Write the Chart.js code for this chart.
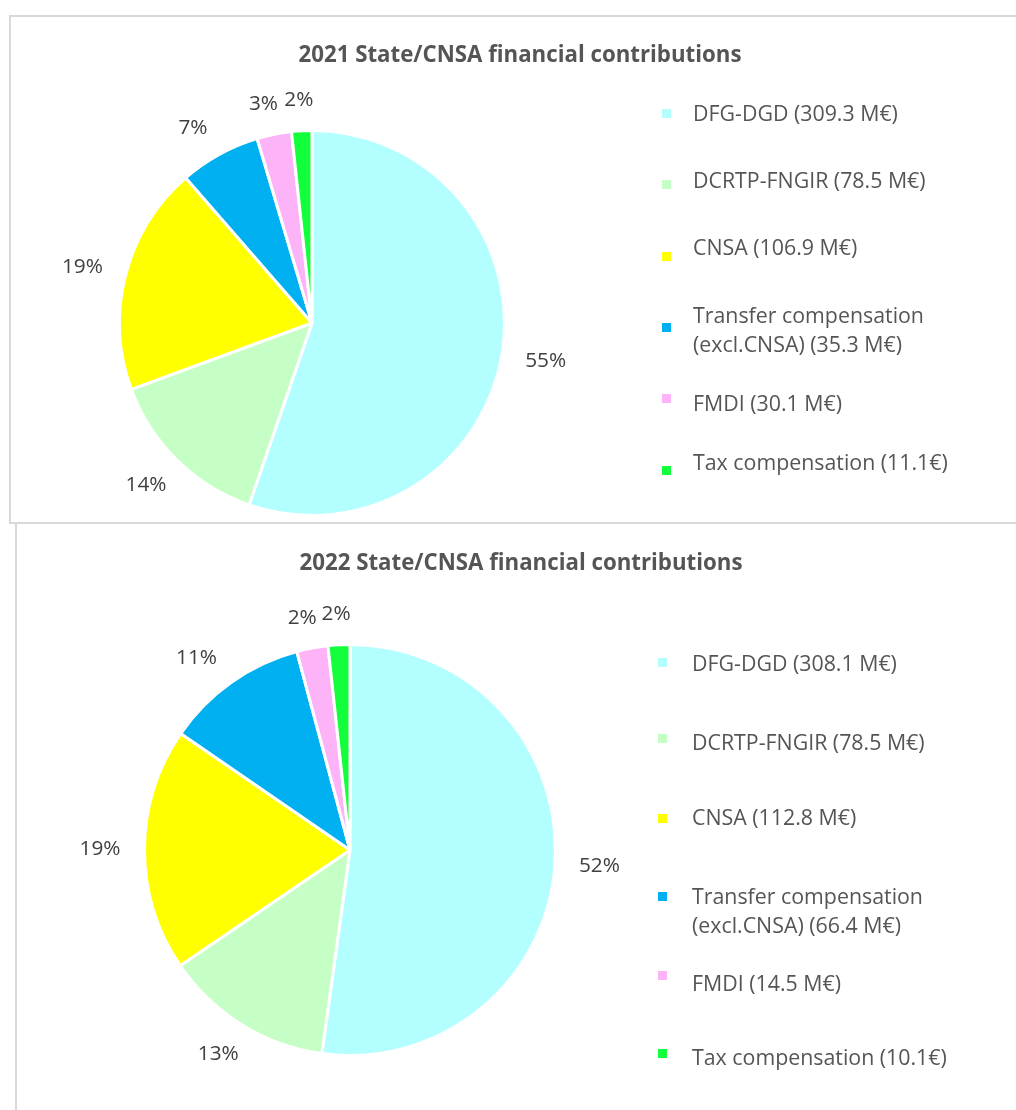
<!DOCTYPE html>
<html>
<head>
<meta charset="utf-8">
<script src="https://cdn.jsdelivr.net/npm/chart.js@4.4.1/dist/chart.umd.min.js"></script>
<style>
  html,body{margin:0;padding:0;background:#fff;width:1016px;height:1110px;overflow:hidden;}
  .box{position:absolute;box-sizing:border-box;border:2px solid #d9d9d9;}
  canvas{position:absolute;}
  .txt{position:absolute;font-family:"Open Sans",sans-serif;color:#555555;white-space:nowrap;line-height:1;font-variant-ligatures:none;}
  .sq{position:absolute;width:9px;height:9px;}
</style>
</head>
<body>
<div class="box" id="box1" style="left:9px;top:15px;width:1020px;height:509px;"></div>
<div class="box" id="box2" style="left:15px;top:522px;width:1020px;height:600px;"></div>
<canvas id="c1" style="left:0;top:0;"></canvas>
<canvas id="c2" style="left:0;top:523px;"></canvas>
<div id="overlay"></div>
<script>
// ---------- data ----------
const categories = ["DFG-DGD", "DCRTP-FNGIR", "CNSA", "Transfer compensation (excl.CNSA)", "FMDI", "Tax compensation"];
const titles = ["2021 State/CNSA financial contributions", "2022 State/CNSA financial contributions"];
// 2021 slice shares (%)
const shares2021 = [55.3, 14.1, 19.2, 6.8, 2.9, 1.7];
// 2022 amounts (M€)
const values2022 = [308.1, 78.5, 112.8, 66.4, 14.5, 10.1];
const legend2021 = ["DFG-DGD (309.3 M€)", "DCRTP-FNGIR (78.5 M€)", "CNSA (106.9 M€)", "Transfer compensation\n(excl.CNSA) (35.3 M€)", "FMDI (30.1 M€)", "Tax compensation (11.1€)"];
const legend2022 = ["DFG-DGD (308.1 M€)", "DCRTP-FNGIR (78.5 M€)", "CNSA (112.8 M€)", "Transfer compensation\n(excl.CNSA) (66.4 M€)", "FMDI (14.5 M€)", "Tax compensation (10.1€)"];

// ---------- styles / layout ----------
const colors = ["#B3FFFF", "#C6FFC6", "#FFFF00", "#00B0F0", "#FDB3F7", "#13FF3B"];
const FONT = '"Open Sans", sans-serif';
const layouts = [
  {canvasTop:0, h:523, pad:{left:118, right:510, top:129, bottom:6}, titleY:54, titleX:520,
   textX:693, sqX:662, textY:[113,180,247,315,403,462], sqY:[113,184,256,327,398,470]},
  {canvasTop:523, h:587, pad:{left:143, right:459, top:120, bottom:53}, titleY:562, titleX:521,
   textX:692, sqX:658, textY:[663,742,817,896,983,1057], sqY:[662,738,818,896,975,1053]}
];

const meas = document.createElement('canvas').getContext('2d');
function fitSize(text, weight, target){
  meas.font = weight + ' 20px ' + FONT;
  return 20 * target / meas.measureText(text).width;
}
const titleSize = fitSize(titles[0], 'bold', 443);
const legSize = fitSize("DFG-DGD (309.3 M€)", 'normal', 205);
const lblSize = fitSize("55%", 'normal', 41);

const labelPlugin = {
  id: 'outLabels',
  afterDatasetsDraw(chart){
    const ctx = chart.ctx;
    const meta = chart.getDatasetMeta(0);
    const data = chart.data.datasets[0].data;
    const total = data.reduce((a,b)=>a+b,0);
    ctx.save();
    ctx.font = lblSize + 'px ' + FONT;
    ctx.fillStyle = '#404040';
    ctx.textAlign = 'center';
    ctx.textBaseline = 'middle';
    meta.data.forEach((arc, i) => {
      const p = arc.getProps(['x','y','startAngle','endAngle','outerRadius'], true);
      const mid = (p.startAngle + p.endAngle)/2;
      const ux = Math.cos(mid), uy = Math.sin(mid);
      const txt = Math.round(data[i]/total*100) + '%';
      const w = ctx.measureText(txt).width, h = lblSize;
      const gap = 24;
      const cx = p.x + (p.outerRadius + gap)*ux + ux*w/2 - (uy < -0.5 ? 8 : 0) * Math.abs(ux) * 2;
      const cy = p.y + (p.outerRadius + gap)*uy + uy*h/2 + (uy < -0.8 ? 4 : 0);
      ctx.fillText(txt, cx, cy);
    });
    ctx.restore();
  }
};

function makeChart(id, values, lay){
  const cv = document.getElementById(id);
  cv.width = 1016; cv.height = lay.h;
  cv.style.width = '1016px'; cv.style.height = lay.h + 'px';
  new Chart(cv, {
    type: 'pie',
    data: { labels: categories, datasets: [{ data: values, backgroundColor: colors, borderColor: '#ffffff', borderWidth: 3 }] },
    options: {
      responsive: false, animation: false, devicePixelRatio: 1,
      layout: { padding: lay.pad },
      plugins: { legend: { display: false }, tooltip: { enabled: false }, title: { display: false } }
    },
    plugins: [labelPlugin]
  });
}

function addText(text, x, y, size, weight, align){
  const d = document.createElement('div');
  d.className = 'txt';
  d.textContent = text;
  d.style.fontSize = size + 'px';
  d.style.fontWeight = weight;
  document.getElementById('overlay').appendChild(d);
  const r = d.getBoundingClientRect();
  d.style.left = (align === 'center' ? x - r.width/2 : x) + 'px';
  d.style.top = (y - r.height/2) + 'px';
}

function drawLegend(items, lay){
  items.forEach((it, i) => {
    const lines = it.split('\n');
    lines.forEach((ln, j) => addText(ln, lay.textX, lay.textY[i] + j*28.5, legSize, 'normal', 'left'));
    const s = document.createElement('div');
    s.className = 'sq';
    s.style.background = colors[i];
    s.style.left = (lay.sqX - 4.5 + 4) + 'px';
    s.style.top = (lay.sqY[i] - 4.5) + 'px';
    document.getElementById('overlay').appendChild(s);
  });
}

makeChart('c1', shares2021, layouts[0]);
makeChart('c2', values2022, layouts[1]);
addText(titles[0], layouts[0].titleX, layouts[0].titleY, titleSize, 'bold', 'center');
addText(titles[1], layouts[1].titleX, layouts[1].titleY, titleSize, 'bold', 'center');
drawLegend(legend2021, layouts[0]);
drawLegend(legend2022, layouts[1]);
</script>
</body>
</html>
